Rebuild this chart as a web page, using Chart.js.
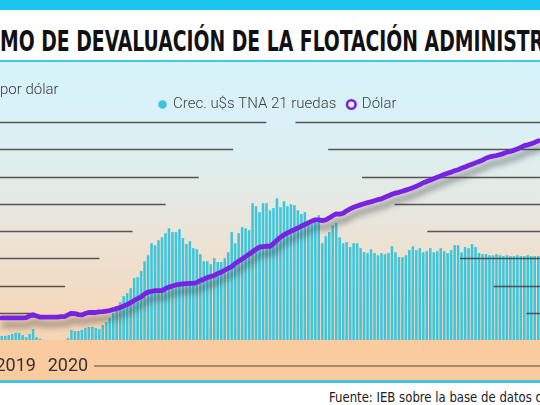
<!DOCTYPE html>
<html><head><meta charset="utf-8">
<script src="https://cdn.jsdelivr.net/npm/chart.js@4.4.1/dist/chart.umd.min.js"></script>
<style>
html,body{margin:0;padding:0;background:#fff;}
#wrap{position:relative;width:540px;height:405px;overflow:hidden;background:#fff;}
#topband{position:absolute;left:0;top:0;width:540px;height:10px;background:#1cc6ee;}
#title{position:absolute;left:0;top:28.3px;font-weight:bold;font-size:28px;font-family:"Liberation Sans Narrow","DejaVu Sans Condensed",sans-serif;line-height:28px;white-space:nowrap;color:#111;transform-origin:0 0;}
#rule1{position:absolute;left:0;top:60px;width:540px;height:2px;background:#3fc9e8;}
#chartbox{position:absolute;left:0;top:62px;width:540px;height:318px;}
#rule2{position:absolute;left:0;top:380px;width:540px;height:3px;background:#45c3de;}
#source{position:absolute;left:329px;top:390.5px;font-size:13.5px;line-height:13.5px;font-family:"Liberation Sans Narrow","DejaVu Sans Condensed",sans-serif;white-space:nowrap;color:#1a1a1a;transform-origin:0 0;}
</style></head>
<body>
<div id="wrap">
  <div id="topband"></div>
  <div id="title">MO DE DEVALUACIÓN DE LA FLOTACIÓN ADMINISTR</div>
  <div id="rule1"></div>
  <div id="chartbox"><canvas id="c" width="540" height="318"></canvas></div>
  <div id="rule2"></div>
  <div id="source">Fuente: IEB sobre la base de datos d</div>
</div>
<script>
// ---- data ----
const barValues = [
  1.5,1.5,1.8,2.2,2.6,2.6,1.8,1.1,2.2,4.0,1.1,0.5,
  null,null,null,null,null,null,null,
  0.7,3.7,3.3,3.3,3.7,4.4,4.8,4.8,4.4,4.0,5.5,
  6.6,8.1,9.9,12.5,13.9,16.1,17.2,19.0,22.7,23.1,
  25.3,28.9,31.1,35.5,34.8,36.6,37.7,39.2,41.0,39.6,
  39.6,40.7,37.4,35.2,36.3,33.7,33.3,31.5,28.9,28.9,
  27.8,30.0,28.6,28.6,30.0,32.2,39.6,35.5,39.2,41.4,
  41.0,40.3,50.2,49.1,46.9,50.2,50.2,47.6,48.4,52.0,
  48.7,50.9,49.1,49.8,49.5,47.6,46.2,46.9,43.6,42.5,
  43.2,45.8,35.5,38.1,39.6,42.1,42.9,37.7,35.5,35.9,
  34.1,35.5,35.5,33.7,32.2,31.9,33.3,31.9,31.1,31.9,
  31.5,31.9,34.4,32.2,30.4,30.4,31.1,33.0,34.4,33.0,
  33.7,32.2,32.6,33.7,32.2,32.6,33.7,32.6,31.9,33.0,
  34.8,34.8,32.2,34.1,33.7,35.2,34.1,31.9,31.5,31.5,
  31.1,31.1,31.5,31.1,30.8,31.1,30.8,30.8,31.1,30.8,
  30.8,31.1,30.8,30.8,30.8
];
const dolarValues = [
  58.1,58.1,58.1,58.1,58.1,58.1,58.1,
  58.2,58.8,59.3,58.8,58.4,58.4,58.4,58.4,58.4,58.4,58.6,58.6,
  59.2,59.8,59.7,59.3,59.2,59.7,60.1,60.1,60.1,60.3,60.4,
  60.6,60.8,61.2,61.5,61.9,62.5,63.0,63.7,64.5,65.2,
  65.8,66.9,67.6,67.8,68.1,68.1,68.1,68.9,69.4,69.8,
  70.2,70.4,70.6,70.7,70.8,70.8,71.1,71.8,72.3,72.9,
  73.3,73.7,74.4,74.9,75.6,76.3,76.9,78.1,78.9,79.7,
  80.6,81.5,82.4,83.3,84.1,84.3,84.4,84.4,85.4,86.6,
  87.7,88.6,89.3,89.9,90.5,91.1,91.8,92.4,93.0,93.6,
  94.1,94.1,93.8,94.1,94.8,95.6,96.3,96.2,96.5,97.4,
  98.1,98.7,99.2,99.6,100.0,100.4,100.7,101.1,101.5,101.8,
  102.4,102.9,103.5,103.9,104.2,104.6,105.0,105.4,105.9,106.4,
  107.0,107.7,108.2,108.6,109.2,109.7,110.2,110.7,111.2,111.6,
  112.1,112.5,113.0,113.5,114.0,114.5,115.0,115.5,116.0,116.7,
  117.2,117.5,117.7,118.0,118.4,118.9,119.2,119.6,120.1,120.7,
  121.3,121.6,122.0,122.5,123.1
];
const categories = barValues.map((_, i) => 'P' + (i + 1));
const tickLabels = ['2019', '2020'];
const tickAt = [4, 19];
const legendLabels = ['Crec. u$s TNA 21 ruedas', 'Dólar'];
const axisUnit = 'por dólar';
const gridValues = [10, 20, 30, 40, 50, 60, 70, 80];

// ---- title / source fit (cropped edges) ----
(function(){
  const t = document.getElementById('title');
  t.style.transform = 'scaleX(' + (544 / t.getBoundingClientRect().width) + ')';
  const src = document.getElementById('source');
  src.style.transform = 'scaleX(' + (214 / src.getBoundingClientRect().width) + ')';
})();

const BAR = '#3cc5dd', LINE = '#7a22e2';
const X_TICK_LEN = 15.2, X_FONT = 18;

const bgPlugin = {
  id: 'bg',
  beforeDraw(chart) {
    const {ctx, chartArea: a, width, height} = chart;
    ctx.save();
    const g = ctx.createLinearGradient(0, 0, 0, a.bottom);
    g.addColorStop(0, '#d6f3fb');
    g.addColorStop(0.3, '#dcf0f3');
    g.addColorStop(0.55, '#e8e7dd');
    g.addColorStop(0.8, '#f2dcc6');
    g.addColorStop(1, '#f7d4b3');
    ctx.fillStyle = g;
    ctx.fillRect(0, 0, width, a.bottom);
    ctx.fillStyle = '#facb9f';
    ctx.fillRect(0, a.bottom, width, height - a.bottom);
    ctx.restore();
  },
  afterDraw(chart) {
    const {ctx} = chart;
    ctx.save();
    ctx.font = '300 15px Roboto';
    ctx.fillStyle = '#3a3a3a';
    ctx.textBaseline = 'middle';
    ctx.textAlign = 'left';
    ctx.fillText(axisUnit, 0, 28.5);
    const xs = chart.scales.x;
    ctx.font = X_FONT + 'px Roboto';
    const last = tickAt.length - 1;
    const px = xs.getPixelForTick(tickAt[last]);
    const w = ctx.measureText(tickLabels[last]).width;
    const yy = xs.top + X_TICK_LEN + X_FONT * 1.2 / 2;
    ctx.strokeStyle = '#8c725f';
    ctx.lineWidth = 1.6;
    ctx.beginPath();
    ctx.moveTo(px + w / 2 + 6, yy);
    ctx.lineTo(chart.width, yy);
    ctx.stroke();
    ctx.restore();
  }
};

const gridShadow = {
  id: 'gridShadow',
  beforeDatasetDraw(chart, args) {
    if (args.index !== 1) return;
    const {ctx, chartArea: a} = chart;
    const ys = chart.scales.y;
    const apexX = 281, apexY = 48.5;
    ctx.save();
    ctx.strokeStyle = 'rgba(70,70,70,0.9)';
    ctx.lineWidth = 1.3;
    gridValues.forEach(v => {
      const py = Math.round(ys.getPixelForValue(v)) + 0.5;
      const xl = apexX - (py - apexY) * 1.227;
      const xr = apexX + (py - apexY) * 1.209;
      ctx.beginPath();
      if (xl > a.left) { ctx.moveTo(a.left, py); ctx.lineTo(Math.min(xl, a.right), py); }
      if (xr < a.right) { ctx.moveTo(Math.max(xr, a.left), py); ctx.lineTo(a.right, py); }
      ctx.stroke();
    });
    ctx.restore();
    ctx.save();
    ctx.shadowColor = 'rgba(60,60,60,0.55)';
    ctx.shadowBlur = 6;
    ctx.shadowOffsetX = 2;
    ctx.shadowOffsetY = 7;
  },
  afterDatasetDraw(chart, args) {
    if (args.index !== 1) return;
    chart.ctx.restore();
  }
};

const legendShift = {
  id: 'legendShift',
  afterLayout(chart) {
    if (chart.legend) { chart.legend.left += 8; chart.legend.right += 8; }
  }
};

new Chart(document.getElementById('c'), {
  data: {
    labels: categories,
    datasets: [
      {type: 'bar', label: legendLabels[0], data: barValues, backgroundColor: BAR, borderWidth: 0,
       barPercentage: 0.72, categoryPercentage: 1, yAxisID: 'y', order: 2},
      {type: 'line', label: legendLabels[1], data: dolarValues, borderColor: LINE, borderWidth: 4.8,
       pointRadius: 0, tension: 0, yAxisID: 'y1', order: 1, borderJoinStyle: 'round', borderCapStyle: 'round'}
    ]
  },
  options: {
    responsive: false, animation: false, maintainAspectRatio: false,
    layout: {padding: {top: 23, bottom: 3.2, left: 0, right: 0}},
    scales: {
      x: {
        grid: {display: false, drawTicks: true, tickLength: X_TICK_LEN}, border: {display: false},
        ticks: {autoSkip: false, maxRotation: 0, minRotation: 0, padding: 0, color: '#333',
          font: {family: 'Roboto', size: X_FONT},
          callback: (v, i) => { const k = tickAt.indexOf(i); return k >= 0 ? tickLabels[k] : ''; }}
      },
      y: {display: false, min: 0, max: 80},
      y1: {display: false, min: 50, max: 130, position: 'right'}
    },
    plugins: {
      legend: {
        display: true, position: 'top',
        labels: {
          usePointStyle: true, boxWidth: 6, boxHeight: 6, padding: 12, color: '#3d3d3d',
          font: {family: 'Roboto', size: 15, weight: '300'},
          generateLabels(chart) {
            const items = Chart.defaults.plugins.legend.labels.generateLabels(chart);
            items.forEach(it => {
              it.pointStyle = 'circle';
              if (it.datasetIndex === 0) { it.fillStyle = BAR; it.strokeStyle = BAR; it.lineWidth = 0; }
              else { it.fillStyle = '#e4f6fb'; it.strokeStyle = LINE; it.lineWidth = 2.6; }
            });
            return items.sort((a, b) => a.datasetIndex - b.datasetIndex);
          }
        }
      },
      tooltip: {enabled: false}
    }
  },
  plugins: [bgPlugin, gridShadow, legendShift]
});
</script>
</body></html>
